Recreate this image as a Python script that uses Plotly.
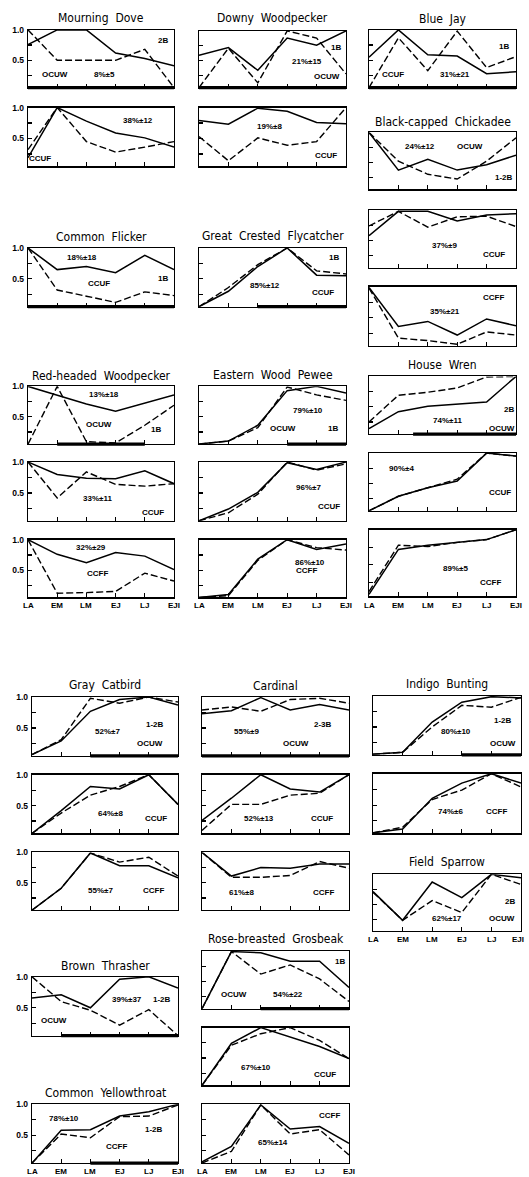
import plotly.graph_objects as go

W, H = 529, 1177
stages = ["LA", "EM", "LM", "EJ", "LJ", "EJI"]

# ---- data: relative values per stage, solid line and dashed line ----
md_ocuw_solid = [0.76, 1.0, 1.0, 0.62, 0.53, 0.41]
md_ocuw_dash = [1.0, 0.5, 0.5, 0.5, 0.68, 0.05]
md_ccuf_solid = [0.19, 1.0, 0.78, 0.59, 0.51, 0.36]
md_ccuf_dash = [0.32, 1.0, 0.45, 0.28, 0.36, 0.45]
dw_ocuw_solid = [0.59, 0.72, 0.34, 0.88, 0.76, 1.0]
dw_ocuw_dash = [0.05, 0.71, 0.13, 1.0, 0.88, 0.28]
dw_ccuf_solid = [0.79, 0.73, 0.99, 0.94, 0.76, 0.74]
dw_ccuf_dash = [0.53, 0.14, 0.51, 0.39, 0.45, 1.0]
bj_ccuf_solid = [0.55, 1.0, 0.59, 0.57, 0.28, 0.31]
bj_ccuf_dash = [0.05, 0.87, 0.33, 0.98, 0.38, 0.56]
bc_ocuw_solid = [1.0, 0.37, 0.55, 0.37, 0.46, 0.62]
bc_ocuw_dash = [1.0, 0.52, 0.30, 0.22, 0.52, 0.91]
bc_ccuf_solid = [0.58, 0.98, 0.98, 0.82, 0.92, 0.94]
bc_ccuf_dash = [0.74, 0.98, 0.72, 0.89, 0.90, 0.73]
bc_ccff_solid = [0.99, 0.36, 0.44, 0.22, 0.48, 0.37]
bc_ccff_dash = [0.98, 0.17, 0.13, 0.07, 0.27, 0.22]
cf_ccuf_solid = [1.0, 0.65, 0.70, 0.60, 0.88, 0.65]
cf_ccuf_dash = [1.0, 0.32, 0.22, 0.12, 0.29, 0.23]
gcf_ccuf_solid = [0.05, 0.30, 0.70, 1.0, 0.56, 0.55]
gcf_ccuf_dash = [0.05, 0.36, 0.73, 1.0, 0.63, 0.58]
rhw_ocuw_solid = [1.0, 0.86, 0.71, 0.59, 0.72, 0.86]
rhw_ocuw_dash = [0.05, 1.0, 0.09, 0.07, 0.36, 0.69]
rhw_ccuf_solid = [1.0, 0.80, 0.74, 0.73, 0.86, 0.65]
rhw_ccuf_dash = [1.0, 0.42, 0.84, 0.64, 0.61, 0.65]
rhw_ccff_solid = [1.0, 0.76, 0.62, 0.79, 0.73, 0.51]
rhw_ccff_dash = [1.0, 0.12, 0.13, 0.15, 0.45, 0.32]
ewp_ocuw_solid = [0.05, 0.10, 0.36, 0.93, 1.0, 0.89]
ewp_ocuw_dash = [0.05, 0.10, 0.32, 0.99, 0.86, 0.77]
ewp_ccuf_solid = [0.05, 0.24, 0.51, 0.99, 0.88, 1.0]
ewp_ccuf_dash = [0.05, 0.18, 0.48, 1.0, 0.87, 0.97]
ewp_ccff_solid = [0.05, 0.10, 0.68, 1.0, 0.84, 0.93]
ewp_ccff_dash = [0.05, 0.08, 0.66, 1.0, 0.87, 0.83]
hw_ocuw_solid = [0.14, 0.42, 0.51, 0.54, 0.58, 1.0]
hw_ocuw_dash = [0.25, 0.69, 0.74, 0.81, 0.99, 1.0]
hw_ccuf_solid = [0.05, 0.29, 0.43, 0.54, 1.0, 0.95]
hw_ccuf_dash = [0.05, 0.29, 0.43, 0.57, 1.0, 0.95]
hw_ccff_solid = [0.08, 0.72, 0.78, 0.82, 0.86, 1.0]
hw_ccff_dash = [0.12, 0.78, 0.76, 0.82, 0.86, 1.0]
gc_ocuw_solid = [0.07, 0.29, 0.77, 0.96, 1.0, 0.87]
gc_ocuw_dash = [0.07, 0.31, 0.98, 0.90, 1.0, 0.92]
gc_ccuf_solid = [0.05, 0.42, 0.81, 0.77, 1.0, 0.52]
gc_ccuf_dash = [0.05, 0.38, 0.67, 0.81, 1.0, 0.52]
gc_ccff_solid = [0.05, 0.41, 0.99, 0.78, 0.78, 0.58]
gc_ccff_dash = [0.05, 0.41, 0.99, 0.84, 0.92, 0.61]
ca_ocuw_solid = [0.73, 0.78, 0.99, 0.79, 0.88, 0.79]
ca_ocuw_dash = [0.79, 0.84, 0.77, 0.96, 0.98, 0.90]
ca_ccuf_solid = [0.26, 0.62, 1.0, 0.77, 0.72, 1.0]
ca_ccuf_dash = [0.10, 0.52, 0.52, 0.67, 0.70, 1.0]
ca_ccff_solid = [1.0, 0.61, 0.75, 0.74, 0.81, 0.81]
ca_ccff_dash = [1.0, 0.59, 0.59, 0.62, 0.85, 0.74]
ib_ocuw_solid = [0.06, 0.09, 0.58, 0.90, 0.99, 0.97]
ib_ocuw_dash = [0.06, 0.09, 0.50, 0.85, 0.82, 0.98]
ib_ccff_solid = [0.06, 0.12, 0.61, 0.85, 1.0, 0.85]
ib_ccff_dash = [0.06, 0.15, 0.59, 0.74, 1.0, 0.79]
fs_ocuw_solid = [0.71, 0.23, 0.87, 0.61, 1.0, 0.94]
fs_ocuw_dash = [0.70, 0.23, 0.56, 0.36, 1.0, 0.83]
bt_ocuw_solid = [0.66, 0.71, 0.50, 0.96, 1.0, 0.82]
bt_ocuw_dash = [1.0, 0.60, 0.46, 0.22, 0.47, 0.05]
rbg_ocuw_solid = [0.05, 0.99, 0.97, 0.83, 0.83, 0.40]
rbg_ocuw_dash = [0.05, 0.99, 0.62, 0.77, 0.54, 0.17]
rbg_ccuf_solid = [0.05, 0.74, 1.0, 0.84, 0.69, 0.49]
rbg_ccuf_dash = [0.05, 0.71, 0.90, 1.0, 0.79, 0.49]
rbg_ccff_solid = [0.07, 0.32, 0.99, 0.60, 0.64, 0.37]
rbg_ccff_dash = [0.05, 0.24, 0.99, 0.52, 0.59, 0.18]
cy_ccff_solid = [0.05, 0.58, 0.59, 0.81, 0.88, 1.0]
cy_ccff_dash = [0.05, 0.52, 0.46, 0.80, 0.81, 0.99]

# ---- layout of panels (pixel boxes) ----
C1, C2, C3 = (28, 174), (199, 346), (369, 516)
D1, D2, D3 = (32, 178), (202, 349), (373, 521)

panels = [
    dict(c=C1, r=(25, 83), s=md_ocuw_solid, d=md_ocuw_dash, bar=(0, 5), yl=True,
         t=[("2B", 4.63, 0.82), ("OCUW", 0.93, 0.26), ("8%±5", 2.61, 0.26)]),
    dict(c=C1, r=(103, 162), s=md_ccuf_solid, d=md_ccuf_dash, yl=True,
         t=[("38%±12", 3.77, 0.79), ("CCUF", 0.42, 0.17)]),
    dict(c=C2, r=(26, 83), s=dw_ocuw_solid, d=dw_ocuw_dash, bar=(0, 5),
         t=[("1B", 4.66, 0.72), ("21%±15", 3.68, 0.48), ("OCUW", 4.34, 0.23)]),
    dict(c=C2, r=(103, 162), s=dw_ccuf_solid, d=dw_ccuf_dash,
         t=[("19%±8", 2.39, 0.69), ("CCUF", 4.32, 0.22)]),
    dict(c=C3, r=(25, 83), s=bj_ccuf_solid, d=bj_ccuf_dash, bar=(0, 5),
         t=[("1B", 4.58, 0.73), ("CCUF", 0.83, 0.26), ("31%±21", 2.93, 0.26)]),
    dict(c=C3, r=(128, 185), s=bc_ocuw_solid, d=bc_ocuw_dash,
         t=[("24%±12", 1.74, 0.77), ("OCUW", 3.42, 0.77), ("1-2B", 4.60, 0.25)]),
    dict(c=C3, r=(206, 264), s=bc_ccuf_solid, d=bc_ccuf_dash,
         t=[("37%±9", 2.57, 0.41), ("CCUF", 4.24, 0.27)]),
    dict(c=C3, r=(283, 342), s=bc_ccff_solid, d=bc_ccff_dash,
         t=[("CCFF", 4.24, 0.82), ("35%±21", 2.57, 0.60)]),
    dict(c=C1, r=(244, 303), s=cf_ccuf_solid, d=cf_ccuf_dash, bar=(0, 5), yl=True,
         t=[("18%±18", 1.84, 0.85), ("CCUF", 2.44, 0.42), ("1B", 4.63, 0.50)]),
    dict(c=C2, r=(244, 303), s=gcf_ccuf_solid, d=gcf_ccuf_dash, bar=(2, 5),
         t=[("1B", 4.60, 0.84), ("85%±12", 2.24, 0.39), ("CCUF", 4.23, 0.28)]),
    dict(c=C1, r=(383, 441), s=rhw_ocuw_solid, d=rhw_ocuw_dash, bar=(1, 4), yl=True,
         t=[("13%±18", 2.61, 0.86), ("OCUW", 2.44, 0.38), ("1B", 4.38, 0.29)]),
    dict(c=C1, r=(459, 518), s=rhw_ccuf_solid, d=rhw_ccuf_dash, yl=True,
         t=[("33%±11", 2.38, 0.41), ("CCUF", 4.28, 0.18)]),
    dict(c=C1, r=(537, 595), s=rhw_ccff_solid, d=rhw_ccff_dash, yl=True, xl=603,
         t=[("32%±29", 2.16, 0.87), ("CCFF", 2.38, 0.44)]),
    dict(c=C2, r=(383, 441), s=ewp_ocuw_solid, d=ewp_ocuw_dash, bar=(3, 5),
         t=[("79%±10", 3.72, 0.60), ("OCUW", 2.84, 0.31), ("1B", 4.57, 0.31)]),
    dict(c=C2, r=(459, 518), s=ewp_ccuf_solid, d=ewp_ccuf_dash,
         t=[("96%±7", 3.72, 0.59), ("CCUF", 4.43, 0.28)]),
    dict(c=C2, r=(537, 595), s=ewp_ccff_solid, d=ewp_ccff_dash, xl=603,
         t=[("86%±10", 3.77, 0.63), ("CCFF", 3.66, 0.49)]),
    dict(c=C3, r=(373, 431), s=hw_ocuw_solid, d=hw_ocuw_dash, bar=(1.5, 5),
         t=[("2B", 4.75, 0.45), ("74%±11", 2.68, 0.28), ("OCUW", 4.52, 0.14)]),
    dict(c=C3, r=(450, 508), s=hw_ccuf_solid, d=hw_ccuf_dash,
         t=[("90%±4", 1.11, 0.74), ("CCUF", 4.47, 0.35)]),
    dict(c=C3, r=(527, 594), s=hw_ccff_solid, d=hw_ccff_dash, xl=603,
         t=[("89%±5", 2.93, 0.45), ("CCFF", 4.12, 0.25)]),
    # bottom half
    dict(c=D1, r=(695, 754), s=gc_ocuw_solid, d=gc_ocuw_dash, bar=(2, 5), yl=True,
         t=[("52%±7", 2.60, 0.45), ("1-2B", 4.22, 0.56), ("OCUW", 4.05, 0.25)]),
    dict(c=D1, r=(773, 832), s=gc_ccuf_solid, d=gc_ccuf_dash, yl=True,
         t=[("64%±8", 2.68, 0.38), ("CCUF", 4.26, 0.30)]),
    dict(c=D1, r=(851, 909), s=gc_ccff_solid, d=gc_ccff_dash, yl=True,
         t=[("55%±7", 2.34, 0.38), ("CCFF", 4.17, 0.38)]),
    dict(c=D2, r=(695, 754), s=ca_ocuw_solid, d=ca_ocuw_dash, bar=(0, 5),
         t=[("55%±9", 1.51, 0.45), ("2-3B", 4.12, 0.55), ("OCUW", 3.21, 0.25)]),
    dict(c=D2, r=(773, 832), s=ca_ccuf_solid, d=ca_ccuf_dash,
         t=[("52%±13", 1.94, 0.29), ("CCUF", 4.09, 0.29)]),
    dict(c=D2, r=(851, 909), s=ca_ccff_solid, d=ca_ccff_dash,
         t=[("61%±8", 1.34, 0.34), ("CCFF", 4.12, 0.34)]),
    dict(c=D3, r=(694, 753), s=ib_ocuw_solid, d=ib_ocuw_dash, bar=(3, 5),
         t=[("1-2B", 4.38, 0.60), ("80%±10", 2.81, 0.42), ("OCUW", 4.38, 0.24)]),
    dict(c=D3, r=(772, 832), s=ib_ccff_solid, d=ib_ccff_dash,
         t=[("74%±6", 2.61, 0.40), ("CCFF", 4.18, 0.40)]),
    dict(c=D3, r=(873, 930), s=fs_ocuw_solid, d=fs_ocuw_dash, xl=938,
         t=[("2B", 4.63, 0.55), ("62%±17", 2.49, 0.26), ("OCUW", 4.35, 0.26)]),
    dict(c=D1, r=(976, 1035), s=bt_ocuw_solid, d=bt_ocuw_dash, bar=(1, 5), yl=True,
         t=[("39%±37", 3.27, 0.63), ("1-2B", 4.46, 0.63), ("OCUW", 0.77, 0.29)]),
    dict(c=D2, r=(950, 1008), s=rbg_ocuw_solid, d=rbg_ocuw_dash, bar=(2, 5),
         t=[("1B", 4.68, 0.82), ("OCUW", 1.10, 0.29), ("54%±22", 2.92, 0.29)]),
    dict(c=D2, r=(1027, 1085), s=rbg_ccuf_solid, d=rbg_ccuf_dash,
         t=[("67%±10", 1.84, 0.35), ("CCUF", 4.17, 0.23)]),
    dict(c=D2, r=(1104, 1163), s=rbg_ccff_solid, d=rbg_ccff_dash, xl=1171,
         t=[("CCFF", 4.34, 0.82), ("65%±14", 2.41, 0.38)]),
    dict(c=D1, r=(1104, 1163), s=cy_ccff_solid, d=cy_ccff_dash, bar=(2, 5), yl=True, xl=1171,
         t=[("78%±10", 1.11, 0.77), ("1-2B", 4.19, 0.60), ("CCFF", 2.91, 0.32)]),
]

titles = [
    ("Mourning  Dove", C1, 13), ("Downy  Woodpecker", C2, 13), ("Blue  Jay", C3, 14),
    ("Black-capped  Chickadee", C3, 118), ("Common  Flicker", C1, 233),
    ("Great  Crested  Flycatcher", C2, 232), ("Red-headed  Woodpecker", C1, 373),
    ("Eastern  Wood  Pewee", C2, 372), ("House  Wren", C3, 362),
    ("Gray  Catbird", D1, 683), ("Cardinal", D2, 684), ("Indigo  Bunting", D3, 682),
    ("Field  Sparrow", D3, 861), ("Brown  Thrasher", D1, 965),
    ("Rose-breasted  Grosbeak", D2, 938), ("Common  Yellowthroat", D1, 1093),
]

TXT = "Liberation Sans, Arial, sans-serif"
TTL = "DejaVu Sans Condensed, Liberation Sans Narrow, DejaVu Sans, sans-serif"
YMIN, YMAX = 0.05, 1.0

fig = go.Figure()
layout = dict(width=W, height=H, margin=dict(l=0, r=0, t=0, b=0),
              paper_bgcolor="white", plot_bgcolor="white", showlegend=False)
annotations, shapes = [], []
bold8 = dict(family=TXT, size=8, color="black", weight="bold")

for i, p in enumerate(panels, start=1):
    sx = "" if i == 1 else str(i)
    x0, x1 = p["c"]
    y0, y1 = p["r"]
    xs = list(range(len(stages)))
    fig.add_trace(go.Scatter(x=xs, y=p["d"], mode="lines", xaxis="x" + sx, yaxis="y" + sx,
                             line=dict(color="black", width=1.4, dash="7px,3px"),
                             hoverinfo="skip"))
    fig.add_trace(go.Scatter(x=xs, y=p["s"], mode="lines", xaxis="x" + sx, yaxis="y" + sx,
                             line=dict(color="black", width=1.5), hoverinfo="skip"))
    yl = p.get("yl", False)
    layout["xaxis" + sx] = dict(
        domain=[x0 / W, x1 / W], anchor="y" + sx, range=[0, 5], fixedrange=True,
        showgrid=False, zeroline=False, showline=True, mirror=True,
        linecolor="black", linewidth=1.3,
        ticks="inside", ticklen=4, tickwidth=1.2, tickcolor="black",
        tickvals=[1, 2, 3, 4], showticklabels=False,
    )
    layout["yaxis" + sx] = dict(
        domain=[1 - y1 / H, 1 - y0 / H], anchor="x" + sx, range=[YMIN, YMAX], fixedrange=True,
        showgrid=False, zeroline=False, showline=True, mirror=True,
        linecolor="black", linewidth=1.3,
        ticks="inside", ticklen=4, tickwidth=1.2, tickcolor="black",
        tickvals=[0.25, 0.5, 0.75, 1.0], ticktext=["", "0.5", "", "1.0"],
        showticklabels=yl, ticklabelstandoff=1,
        tickfont=dict(family=TXT, size=8.5, color="black", weight="bold"),
    )
    if p.get("xl"):
        for k, lab in enumerate(stages):
            shift = -3 if (k == 5 and x1 > 518) else 0
            annotations.append(dict(text=lab, x=k, y=1 - p["xl"] / H, xref="x" + sx,
                                    yref="paper", showarrow=False, yanchor="middle",
                                    xanchor="center", xshift=shift, font=bold8))
    for (txt, tx, ty) in p["t"]:
        annotations.append(dict(text=txt, x=tx, y=ty, xref="x" + sx, yref="y" + sx,
                                showarrow=False, font=bold8))
    if p.get("bar"):
        b0, b1 = p["bar"]
        shapes.append(dict(type="line", xref="x" + sx, yref="y" + sx + " domain",
                           x0=b0, x1=b1, y0=0, y1=0,
                           line=dict(color="black", width=3.2)))

for (txt, col, yc) in titles:
    annotations.append(dict(text=txt, x=(col[0] + col[1]) / 2 / W, y=1 - yc / H,
                            xref="paper", yref="paper", showarrow=False,
                            xanchor="center", yanchor="middle",
                            font=dict(family=TTL, size=12, color="black")))

layout["annotations"] = annotations
layout["shapes"] = shapes
fig.update_layout(**layout)
fig.write_html("out.html", config={"displayModeBar": False, "staticPlot": True},
               post_script="document.body.style.margin='0';"
                           "document.body.style.overflow='hidden';")
